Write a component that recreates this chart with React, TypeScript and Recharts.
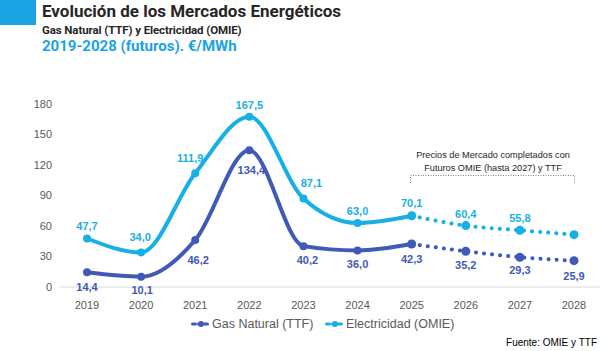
import React from "react";
import { LineChart, Line, XAxis, YAxis, LabelList } from "recharts";

const years = ["2019", "2020", "2021", "2022", "2023", "2024", "2025", "2026", "2027", "2028"];
const gasValues = [14.4, 10.1, 46.2, 134.4, 40.2, 36.0, 42.3, 35.2, 29.3, 25.9];
const elecValues = [47.7, 34.0, 111.9, 167.5, 87.1, 63.0, 70.1, 60.4, 55.8, 51.5];
const elecLabelled = [true, true, true, true, true, true, true, true, true, false];
const yTicks = [0, 30, 60, 90, 120, 150, 180];
const lastReal = 6; // 2025

// label nudges (px) so values sit where the original puts them
const elecDx = [0, -1, -5, 0, 8, 0, 0, 0, 0, 0];
const elecDy = [-12, -15, -15, -12, -15, -12, -13, -11, -12, -12];
const gasDx = [0, 1, 3, 2, 4, 0, 0, 0, 0, 0];
const gasDy = [15, 13, 20, 20, 14, 14, 15, 14, 13, 15];

const GAS = "#4159b7";
const ELEC = "#17b0e6";
const FONT = "Liberation Sans, Arial";

const data = years.map((year, i) => ({
  year,
  gasReal: i <= lastReal ? gasValues[i] : null,
  gasFut: i >= lastReal ? gasValues[i] : null,
  elecReal: i <= lastReal ? elecValues[i] : null,
  elecFut: i >= lastReal ? elecValues[i] : null,
}));

const fmt = (v: number) => v.toFixed(1).replace(".", ",");

function ElecLabel(props: any) {
  const { x, y, index, value } = props;
  if (!elecLabelled[index] || value == null) return null;
  return (
    <text x={x + elecDx[index]} y={y + elecDy[index]} dy="0.35em" textAnchor="middle" fill={ELEC} fontSize={11} fontWeight={700} fontFamily={FONT}>
      {fmt(value)}
    </text>
  );
}

function GasLabel(props: any) {
  const { x, y, index, value } = props;
  if (value == null) return null;
  return (
    <text x={x + gasDx[index]} y={y + gasDy[index]} dy="0.35em" textAnchor="middle" fill={GAS} fontSize={11} fontWeight={700} fontFamily={FONT}>
      {fmt(value)}
    </text>
  );
}

function LegendIcon({ color }: { color: string }) {
  return (
    <svg width={20} height={10} style={{ verticalAlign: "middle", marginRight: 1, marginTop: -2 }}>
      <line x1={1.5} y1={5} x2={18.5} y2={5} stroke={color} strokeWidth={3} strokeLinecap="round" strokeDasharray="3 3" />
      <circle cx={10} cy={5} r={3} fill={color} />
    </svg>
  );
}

export default function App() {
  return (
    <div style={{ position: "absolute", left: 0, top: 0, width: 600, height: 351, background: "#fff", overflow: "hidden" }}>
      <LineChart width={600} height={351} data={data} margin={{ top: 104, right: 0, bottom: 34, left: 0 }}>
        <XAxis
          dataKey="year"
          padding={{ left: 27, right: 26 }}
          axisLine={{ stroke: "#d9d9d9" }}
          tickLine={false}
          tickSize={0}
          tickMargin={14}
          tick={{ fill: "#595959", fontSize: 11, fontFamily: FONT }}
          height={30}
        />
        <YAxis
          domain={[0, 180]}
          ticks={yTicks}
          axisLine={false}
          tickLine={false}
          tickSize={0}
          tickMargin={8}
          width={60}
          tick={{ fill: "#595959", fontSize: 11, fontFamily: FONT }}
        />
        <Line dataKey="elecReal" type="monotone" stroke={ELEC} strokeWidth={4} dot={{ r: 4, fill: ELEC, stroke: "none" }} isAnimationActive={false}>
          <LabelList dataKey="elecReal" content={<ElecLabel />} />
        </Line>
        <Line dataKey="elecFut" type="monotone" stroke={ELEC} strokeWidth={4} strokeDasharray="0.1 8" strokeLinecap="round" dot={{ r: 4.5, fill: ELEC, stroke: "none" }} isAnimationActive={false}>
          <LabelList dataKey="elecFut" content={(p: any) => (p.index > lastReal ? <ElecLabel {...p} /> : null)} />
        </Line>
        <Line dataKey="gasReal" type="monotone" stroke={GAS} strokeWidth={4} dot={{ r: 4, fill: GAS, stroke: "none" }} isAnimationActive={false}>
          <LabelList dataKey="gasReal" content={<GasLabel />} />
        </Line>
        <Line dataKey="gasFut" type="monotone" stroke={GAS} strokeWidth={4} strokeDasharray="0.1 8" strokeLinecap="round" dot={{ r: 4.5, fill: GAS, stroke: "none" }} isAnimationActive={false}>
          <LabelList dataKey="gasFut" content={(p: any) => (p.index > lastReal ? <GasLabel {...p} /> : null)} />
        </Line>
      </LineChart>

      <div style={{ position: "absolute", left: 0, top: 0, width: 36, height: 25, background: "#1ba3e3" }} />
      <div style={{ position: "absolute", left: 42, top: 1, fontFamily: "Roboto", fontWeight: 700, fontSize: 17, color: "#262626", whiteSpace: "nowrap" }}>
        Evolución de los Mercados Energéticos
      </div>
      <div style={{ position: "absolute", left: 42, top: 23, fontFamily: "Roboto", fontWeight: 700, fontSize: 11.5, letterSpacing: -0.1, color: "#262626", whiteSpace: "nowrap" }}>
        Gas Natural (TTF) y Electricidad (OMIE)
      </div>
      <div style={{ position: "absolute", left: 42, top: 37, fontFamily: "Roboto", fontWeight: 700, fontSize: 15, color: "#1ba3e3", whiteSpace: "nowrap" }}>
        2019-2028 (futuros). €/MWh
      </div>

      <div style={{ position: "absolute", left: 393, top: 149, width: 200, textAlign: "center", fontFamily: FONT, fontSize: 9.2, lineHeight: "13px", color: "#262626" }}>
        Precios de Mercado completados con
        <br />
        Futuros OMIE (hasta 2027) y TTF
      </div>
      <svg style={{ position: "absolute", left: 0, top: 0 }} width={600} height={351} pointerEvents="none">
        <path d="M410.5 183 V175.5 H574.5 V183" fill="none" stroke="#7f7f7f" strokeWidth={1} strokeDasharray="1 1.5" />
      </svg>

      <div style={{ position: "absolute", left: 191, top: 317, fontFamily: FONT, fontSize: 12.5, color: "#595959", whiteSpace: "nowrap" }}>
        <LegendIcon color={GAS} />
        Gas Natural (TTF)
      </div>
      <div style={{ position: "absolute", left: 325, top: 317, fontFamily: FONT, fontSize: 12.5, color: "#595959", whiteSpace: "nowrap" }}>
        <LegendIcon color={ELEC} />
        Electricidad (OMIE)
      </div>

      <div style={{ position: "absolute", right: 3, top: 337, fontFamily: FONT, fontSize: 10, color: "#000" }}>
        Fuente: OMIE y TTF
      </div>
    </div>
  );
}
